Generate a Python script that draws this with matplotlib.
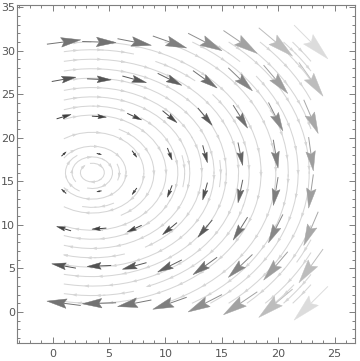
import numpy as np
import matplotlib
matplotlib.use('Agg')
import matplotlib.pyplot as plt
from matplotlib.patches import Polygon
from matplotlib.ticker import MultipleLocator

# sample grid (evenly spaced, 8 x 8)
x_pts = np.linspace(1.0, 22.9, 8)
y_pts = np.linspace(1.0, 31.0, 8)
# horizontal component depends on the row, vertical one on the column
u_by_row = [-15.0, -10.7, -6.4, -2.1, 2.1, 6.4, 10.7, 15.0]
v_by_col = [2.5, -0.6, -3.8, -6.9, -10.0, -13.2, -16.3, -19.4]

X, Y = np.meshgrid(x_pts, y_pts)
U = np.repeat(np.array(u_by_row)[:, None], len(x_pts), axis=1)
V = np.tile(np.array(v_by_col), (len(y_pts), 1))

fig = plt.figure(figsize=(3.6, 3.61), dpi=100)
ax = fig.add_axes([17 / 360, 18 / 361, 338 / 360, 338 / 361])
ax.set_xlim(-3.15, 26.8)
ax.set_ylim(-3.56, 35.25)

to_disp = ax.transData.transform
to_data = ax.transData.inverted().transform

stream_col = '#d6d6d6'
sp = ax.streamplot(x_pts, y_pts, U, V, density=0.95, color=stream_col,
                   linewidth=0.75, arrowstyle='-', zorder=2)

# small arrowheads all along each streamline, like the reference
step_px = 24.0
for seg in sp.lines.get_segments():
    if len(seg) < 2:
        continue
    d = to_disp(seg)
    seglen = np.hypot(*np.diff(d, axis=0).T)
    cum = np.concatenate([[0], np.cumsum(seglen)])
    total = cum[-1]
    if total < step_px * 0.6:
        continue
    for s in np.arange(step_px * 0.5, total, step_px):
        k = np.searchsorted(cum, s) - 1
        k = min(max(k, 0), len(seglen) - 1)
        if seglen[k] == 0:
            continue
        t = (s - cum[k]) / seglen[k]
        p = d[k] + t * (d[k + 1] - d[k])
        e = (d[k + 1] - d[k]) / seglen[k]
        n = np.array([-e[1], e[0]])
        tip = p + e * 2.5
        base = p - e * 2.5
        tri = np.array([tip, base + n * 1.6, base - n * 1.6])
        ax.add_patch(Polygon(to_data(tri), closed=True, facecolor=stream_col,
                             edgecolor='none', zorder=2))

# vector arrows, centred on the sample points, sized in data units
scale = 0.2
mag = np.hypot(U, V)


def gray_for(m):
    g = np.clip(50 + 0.283 * m ** 2, 40, 225) / 255.0
    return (g, g, g)


for i in range(len(y_pts)):
    for j in range(len(x_pts)):
        px, py = X[i, j], Y[i, j]
        du, dv = U[i, j] * scale / 2, V[i, j] * scale / 2
        tail = to_disp((px - du, py - dv))
        tip = to_disp((px + du, py + dv))
        d = tip - tail
        L = np.hypot(*d)
        if L < 0.5:
            continue
        e = d / L
        n = np.array([-e[1], e[0]])
        hl = 0.58 * L
        hw = 0.14 * L
        base = tip - e * hl
        notch = tip - e * hl * 0.85
        head = np.array([tip, base + n * hw, notch, base - n * hw])
        col = gray_for(mag[i, j])
        ax.add_patch(Polygon(to_data(head), closed=True, facecolor=col,
                             edgecolor=col, linewidth=0.3, zorder=4))
        shaft = to_data(np.array([tail, notch]))
        ax.plot(shaft[:, 0], shaft[:, 1], color=col, linewidth=0.7, zorder=4,
                solid_capstyle='butt')

frame_col = '#7f7f7f'
for spine in ax.spines.values():
    spine.set_color(frame_col)
    spine.set_linewidth(0.8)
ax.xaxis.set_major_locator(MultipleLocator(5))
ax.xaxis.set_minor_locator(MultipleLocator(1))
ax.yaxis.set_major_locator(MultipleLocator(5))
ax.yaxis.set_minor_locator(MultipleLocator(1))
ax.tick_params(which='both', direction='in', top=True, right=True,
               color=frame_col, width=0.7, labelsize=8, labelcolor='#555555')
ax.tick_params(which='major', length=4)
ax.tick_params(which='minor', length=2)
ax.tick_params(axis='y', pad=1.5)
ax.tick_params(axis='x', pad=4)

fig.savefig('out.png', dpi=100)
